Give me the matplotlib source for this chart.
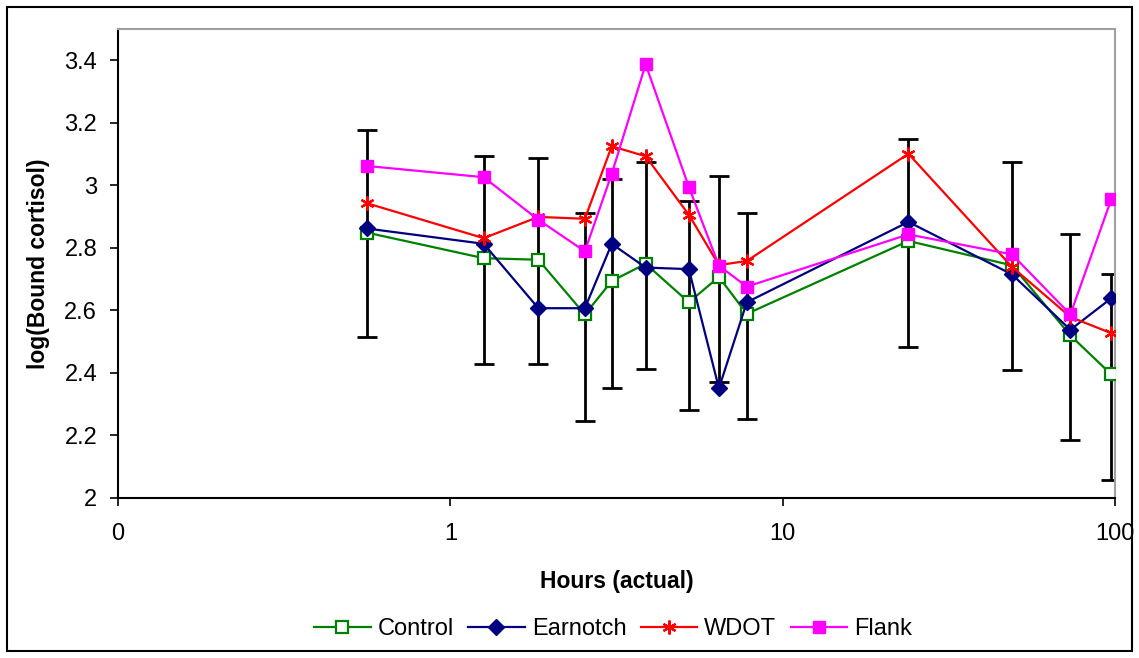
import matplotlib
matplotlib.use("Agg")
import matplotlib.pyplot as plt
from matplotlib.patches import Rectangle

plt.rcParams["font.family"] = ["Liberation Sans", "DejaVu Sans"]

# data
hours = [0.56, 1.26, 1.84, 2.54, 3.06, 3.87, 5.22, 6.43, 7.8, 23.9, 49.0, 73.4, 97.5]

control = [2.849, 2.767, 2.762, 2.587, 2.694, 2.749, 2.626, 2.707, 2.589,
           2.822, 2.744, 2.520, 2.395]
earnotch = [2.862, 2.813, 2.607, 2.607, 2.813, 2.737, 2.732, 2.351, 2.626,
            2.883, 2.715, 2.538, 2.639]
wdot = [2.943, 2.831, 2.899, 2.893, 3.125, 3.093, 2.906, 2.745, 2.758,
        3.101, 2.739, 2.579, 2.527]
flank = [3.062, 3.026, 2.890, 2.789, 3.037, 3.387, 2.995, 2.743, 2.676,
         2.843, 2.779, 2.587, 2.956]

# error bar ends (on the Control series)
err_top = [3.176, 3.093, 3.087, 2.911, 3.019, 3.075, 2.950, 3.031, 2.911,
           3.149, 3.075, 2.843, 2.718]
err_bottom = [2.515, 2.427, 2.427, 2.246, 2.351, 2.413, 2.283, 2.371, 2.252,
              2.483, 2.408, 2.184, 2.058]

x_ticks = [0.1, 1, 10, 100]
x_tick_labels = ["0", "1", "10", "100"]
y_ticks = [2, 2.2, 2.4, 2.6, 2.8, 3, 3.2, 3.4]
y_tick_labels = ["2", "2.2", "2.4", "2.6", "2.8", "3", "3.2", "3.4"]

fig = plt.figure(figsize=(11.39, 6.58), dpi=100)
ax = fig.add_axes([118 / 1139, 1 - 498 / 658, (1115 - 118) / 1139, (498 - 29) / 658])

# outer chart border
fig.patches.append(Rectangle((7 / 1139, 7 / 658), 1 - 14 / 1139, 1 - 14 / 658,
                             transform=fig.transFigure, fill=False,
                             edgecolor="black", lw=1.5))

yerr = [[c - b for c, b in zip(control, err_bottom)],
        [t - c for t, c in zip(err_top, control)]]
ax.errorbar(hours, control, yerr=yerr, fmt="none", ecolor="black",
            elinewidth=2, capsize=7, capthick=2, zorder=2)

ax.plot(hours, control, color="#008000", lw=1.6, marker="s", ms=8,
        mfc="white", mec="#008000", mew=1.6, label="Control", zorder=3)
ax.plot(hours, earnotch, color="#000080", lw=1.6, marker="D", ms=8,
        mfc="#000080", mec="#000080", label="Earnotch", zorder=4)
ax.plot(hours, wdot, color="#FF0000", lw=1.6, marker=(6, 2, 0), ms=10,
        mec="#FF0000", mew=1.6, label="WDOT", zorder=5)
ax.plot(hours, flank, color="#FF00FF", lw=1.6, marker="s", ms=8.5,
        mfc="#FF00FF", mec="#FF00FF", label="Flank", zorder=6)

ax.set_xscale("log")
ax.set_xlim(0.1, 100)
ax.set_ylim(2, 3.5)
ax.set_xticks(x_ticks)
ax.set_xticklabels(x_tick_labels)
ax.xaxis.set_minor_locator(matplotlib.ticker.NullLocator())
ax.set_yticks(y_ticks)
ax.set_yticklabels(y_tick_labels)
ax.tick_params(axis="both", direction="out", length=6, width=1.2,
               labelsize=17, pad=9)
ax.tick_params(axis="x", pad=12)

for side in ["left", "bottom"]:
    ax.spines[side].set_color("black")
    ax.spines[side].set_linewidth(1.5)
for side in ["top", "right"]:
    ax.spines[side].set_color("#a0a0a0")
    ax.spines[side].set_linewidth(1.5)

ax.set_xlabel("Hours (actual)", fontsize=16.5, fontweight="bold", labelpad=18)
ax.set_ylabel("log(Bound cortisol)", fontsize=16.5, fontweight="bold", labelpad=10)

fig.legend(loc="center", bbox_to_anchor=(613 / 1139, 1 - 629 / 658), ncol=4,
           frameon=False, fontsize=17, handlelength=2.4, columnspacing=0.6,
           handletextpad=0.3)

fig.savefig("out.png", dpi=100)
